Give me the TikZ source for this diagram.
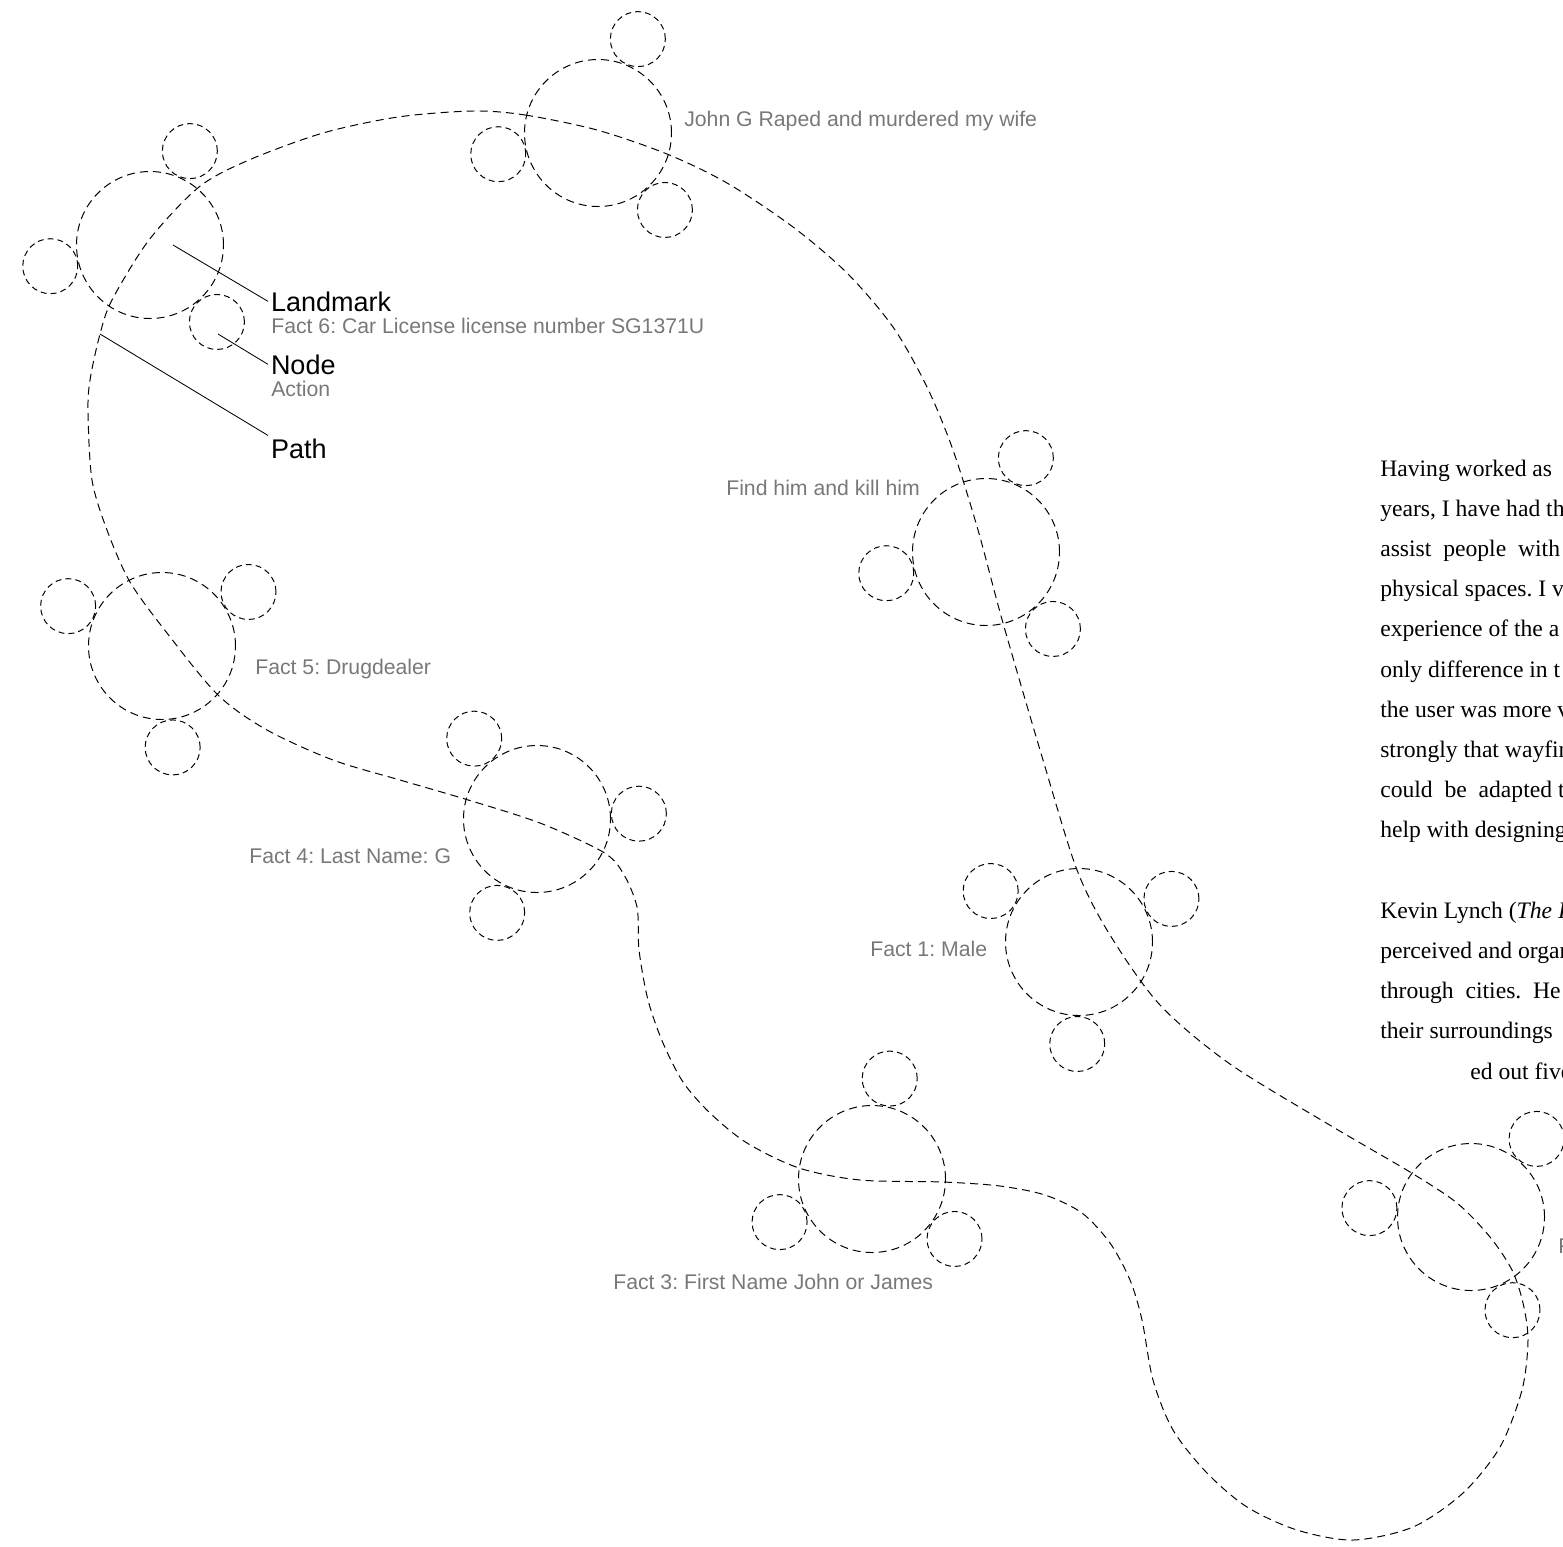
\documentclass[tikz,border=0pt]{standalone}
\usepackage{fontspec}
\setmainfont{Liberation Serif}
\setsansfont{Liberation Sans}
\definecolor{factgrey}{RGB}{120,120,120}
\frenchspacing

\begin{document}
\begin{tikzpicture}[x=0.25mm,y=-0.25mm,
	landmark/.style={circle,draw,dash pattern=on 5.7pt off 3.6pt,line width=0.7pt,minimum size=36.75mm,inner sep=0pt},
	action/.style={circle,draw,dash pattern=on 4.2pt off 2.9pt,line width=0.7pt,minimum size=13.75mm,inner sep=0pt},
	route/.style={dash pattern=on 5.7pt off 3.6pt,line width=0.7pt},
	leader/.style={line width=0.6pt},
	fact/.style={anchor=base west,inner sep=0pt,text=factgrey,font=\sffamily\fontsize{15.1}{18}\selectfont},
	key/.style={anchor=base west,inner sep=0pt,outer sep=0.75mm,font=\sffamily\fontsize{19.2}{23}\selectfont},
	essay/.style={anchor=base west,inner sep=0pt,font=\fontsize{16.8}{27}\selectfont}]
	
	\useasboundingbox (0,0) rectangle (1563,1546);
	
	\foreach \name/\x/\y/\rot in {car/150/245/0, john/598/133/0, find/986/552/0, drug/162/646/-35,
		last/537/819/-64, male/1079/942/-42, first/872/1179/13, fact2/1471/1217/-17}{
		\node[landmark] (\name) at (\x,\y) {};
		\foreach \a [count=\k] in {67,192,311}{
			\pgfmathtruncatemacro\ang{mod(\a+\rot+360,360)}
			\pgfmathtruncatemacro\opp{mod(\a+\rot+540,360)}
			\node[action,anchor=\opp] (\name\k) at (\name.\ang) {};
		}
	}
	
	\draw[route] plot[smooth cycle] coordinates {(473,111) (525,115) (597,130) (667,154) (727,183)
		(793,227) (847,273) (893,327) (927,387) (953,450) (978,530) (1003,623) (1043,760) (1077,870)
		(1110,935) (1160,1005) (1230,1064) (1333,1127) (1410,1172) (1457,1203) (1490,1237)
		(1512,1270) (1523,1303) (1528,1340) (1522,1390) (1500,1447) (1463,1493) (1413,1527) (1353,1540)
		(1297,1530) (1247,1507) (1207,1473) (1173,1430) (1153,1380) (1142,1320) (1130,1280) (1110,1243)
		(1082,1213) (1045,1195) (1000,1186) (943,1182) (860,1180) (799,1168) (747,1143) (710,1113) (683,1082)
		(663,1043) (648,1000) (639,950) (637,907) (623,873) (603,852) (540,823) (465,799) (400,780)
		(333,760) (267,730) (218,695) (167,633) (130,582) (107,530) (92,480) (88,413) (90,380)
		(100,334) (112,300) (149,240) (199,187) (249,160) (323,133) (398,117)};
	
	\node[fact] (john label) at (684,126) {John G Raped and murdered my wife};
	\node[fact] (find label) at (726,495) {Find him and kill him};
	\node[fact] (drug label) at (255,674) {Fact 5: Drugdealer};
	\node[fact] (last label) at (249,863) {Fact 4: Last Name: G};
	\node[fact] (male label) at (870,956) {Fact 1: Male};
	\node[fact] (first label) at (613,1289) {Fact 3: First Name John or James};
	\node[fact] (fact2 label) at (1558,1253) {F};
	
	\node[key] (landmark key) at (268,311) {Landmark};
	\node[fact] (car label) at (271,333) {Fact 6: Car License license number SG1371U};
	\node[key] (node key) at (268,374) {Node};
	\node[fact] (action label) at (271,396) {Action};
	\node[key] (path key) at (268,458) {Path};
	
	\coordinate (landmark tip) at (173,245);
	\coordinate (node tip) at (218,334);
	\coordinate (path tip) at (100,334);
	\draw[leader] (landmark tip) -- (landmark key.west);
	\draw[leader] (node tip) -- (node key.west);
	\draw[leader] (path tip) -- (path key.north west);
	
	\foreach \line [count=\i from 0] in {Having worked as, {years, I have had th}, assist \ people \ with,
		physical spaces. I vi, experience of the a, only difference in t, the user was more v,
		strongly that wayfin, could \ be \ adapted t, help with designing}
		\node[essay] (essay\i) at (1380,476+40.2*\i) {\line};
	\foreach \line [count=\i from 11] in {{Kevin Lynch (\textit{The I}}, perceived and organ,
		through \ cities. \ He, their surroundings}
		\node[essay] (essay\i) at (1380,476+40.2*\i) {\line};
	\node[essay] (essay15) at (1470,1079) {ed out five};
	
\end{tikzpicture}
\end{document}
